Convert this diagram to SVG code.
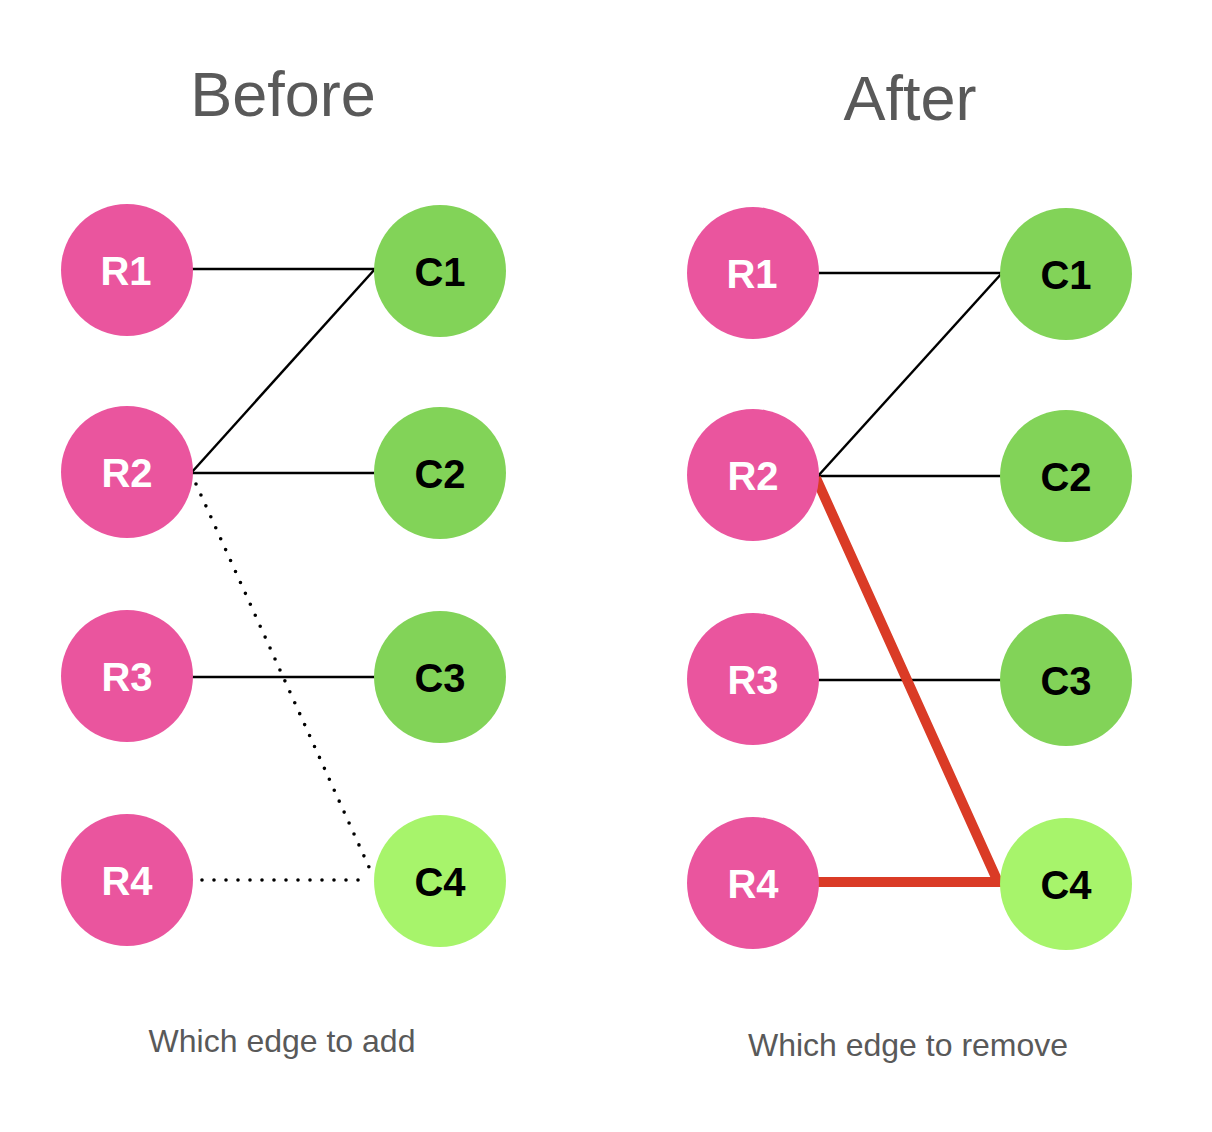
<svg xmlns="http://www.w3.org/2000/svg" width="1212" height="1132" viewBox="0 0 1212 1132">
<style>
.bg{fill:#ffffff}
.r{fill:#EA559E}
.c{fill:#82D358}
.c4{fill:#A7F46B}
.rl{font-family:"Liberation Sans",Arial,sans-serif;font-weight:bold;font-size:40px;fill:#ffffff;text-anchor:middle}
.cl{font-family:"Liberation Sans",Arial,sans-serif;font-weight:bold;font-size:40px;fill:#000000;text-anchor:middle}
.title{font-family:"Liberation Sans",Arial,sans-serif;font-size:63px;fill:#595959;text-anchor:middle}
.cap{font-family:"Liberation Sans",Arial,sans-serif;font-size:32px;fill:#595959;text-anchor:middle}
.e{stroke:#000;stroke-width:2.5;fill:none}
.d{stroke:#000;stroke-width:3.6;fill:none;stroke-dasharray:0 12;stroke-linecap:round}
.red{stroke:#DA3B26;stroke-width:10;fill:none;stroke-linejoin:miter}
</style>
<rect class="bg" x="0" y="0" width="1212" height="1132"/>
<text class="title" x="283" y="116">Before</text>
<text class="title" x="910" y="120">After</text>
<text class="cap" x="282" y="1052">Which edge to add</text>
<text class="cap" x="908" y="1056">Which edge to remove</text>
<g id="connectors">
<line class="e" x1="192" y1="269" x2="375" y2="269"/>
<line class="e" x1="192" y1="472" x2="375" y2="269"/>
<line class="e" x1="192" y1="473" x2="375" y2="473"/>
<line class="e" x1="192" y1="677" x2="375" y2="677"/>
<line class="d" x1="196" y1="484" x2="373" y2="876"/>
<line class="d" x1="202" y1="880" x2="370" y2="880"/>
<line class="e" x1="818" y1="273" x2="1002" y2="273"/>
<line class="e" x1="818" y1="476" x2="1002" y2="273"/>
<line class="e" x1="818" y1="476" x2="1002" y2="476"/>
<line class="e" x1="818" y1="680" x2="1002" y2="680"/>
<path class="red" d="M818,882 L998,882 L816,478"/>
</g>
<g id="R1"><circle class="r" cx="127" cy="270" r="66"/><text class="rl" x="126" y="285">R1</text></g>
<g id="R2"><circle class="r" cx="127" cy="472" r="66"/><text class="rl" x="127" y="487">R2</text></g>
<g id="R3"><circle class="r" cx="127" cy="676" r="66"/><text class="rl" x="127" y="691">R3</text></g>
<g id="R4"><circle class="r" cx="127" cy="880" r="66"/><text class="rl" x="127" y="895">R4</text></g>
<g id="C1"><circle class="c" cx="440" cy="271" r="66"/><text class="cl" x="440" y="286">C1</text></g>
<g id="C2"><circle class="c" cx="440" cy="473" r="66"/><text class="cl" x="440" y="488">C2</text></g>
<g id="C3"><circle class="c" cx="440" cy="677" r="66"/><text class="cl" x="440" y="692">C3</text></g>
<g id="C4"><circle class="c4" cx="440" cy="881" r="66"/><text class="cl" x="440" y="896">C4</text></g>
<g id="R1b"><circle class="r" cx="753" cy="273" r="66"/><text class="rl" x="752" y="288">R1</text></g>
<g id="R2b"><circle class="r" cx="753" cy="475" r="66"/><text class="rl" x="753" y="490">R2</text></g>
<g id="R3b"><circle class="r" cx="753" cy="679" r="66"/><text class="rl" x="753" y="694">R3</text></g>
<g id="R4b"><circle class="r" cx="753" cy="883" r="66"/><text class="rl" x="753" y="898">R4</text></g>
<g id="C1b"><circle class="c" cx="1066" cy="274" r="66"/><text class="cl" x="1066" y="289">C1</text></g>
<g id="C2b"><circle class="c" cx="1066" cy="476" r="66"/><text class="cl" x="1066" y="491">C2</text></g>
<g id="C3b"><circle class="c" cx="1066" cy="680" r="66"/><text class="cl" x="1066" y="695">C3</text></g>
<g id="C4b"><circle class="c4" cx="1066" cy="884" r="66"/><text class="cl" x="1066" y="899">C4</text></g>
</svg>
